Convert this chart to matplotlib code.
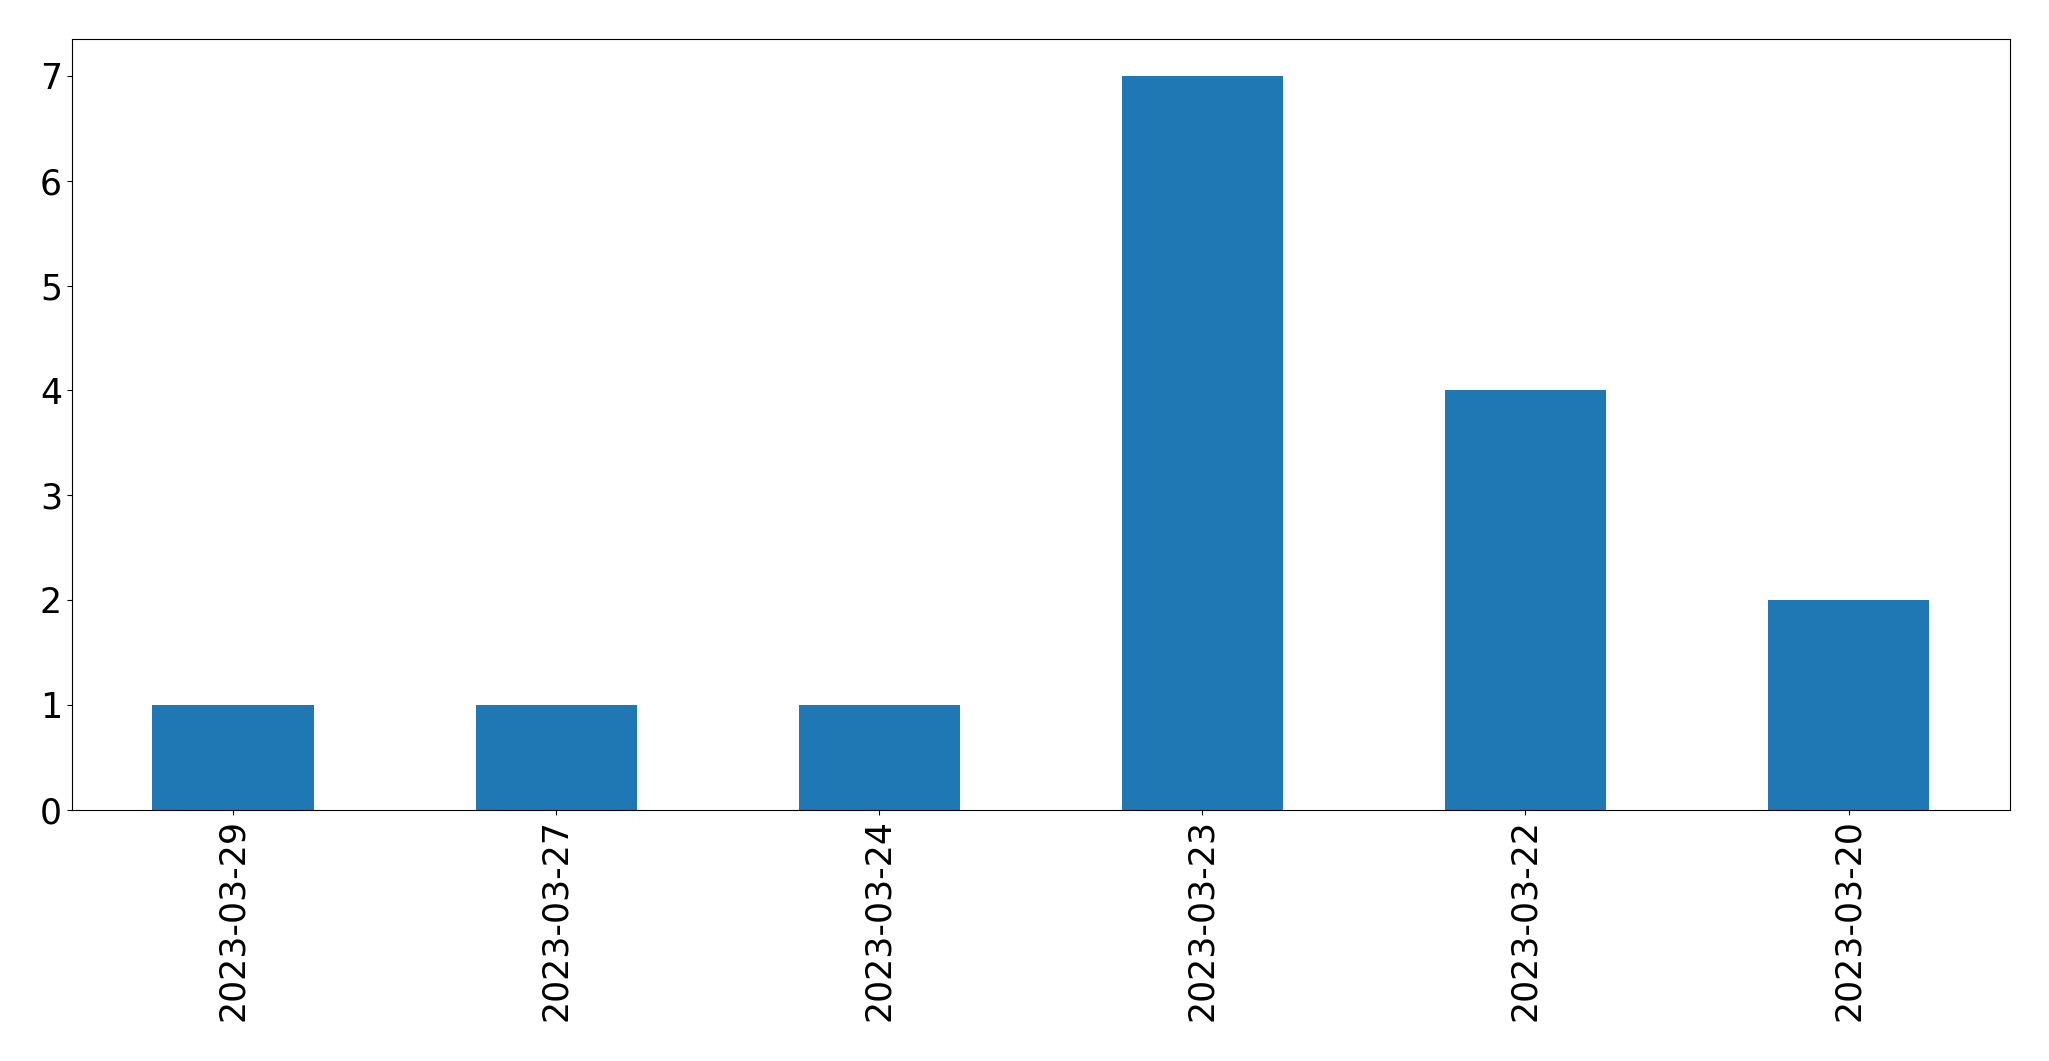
import matplotlib
matplotlib.use("Agg")
import matplotlib.pyplot as plt
import pandas as pd

dates = ["2023-03-29", "2023-03-27", "2023-03-24", "2023-03-23", "2023-03-22", "2023-03-20"]
counts = [1, 1, 1, 7, 4, 2]

plt.rcParams['font.size'] = 25

s = pd.Series(counts, index=dates)
fig, ax = plt.subplots(figsize=(20.49, 10.61), dpi=100)
s.plot(kind='bar', ax=ax, color='#1f77b4')
ax.tick_params(axis='x', rotation=90)
fig.subplots_adjust(left=0.035, right=0.981, top=0.963, bottom=0.237)
fig.savefig("out.png", dpi=100)
